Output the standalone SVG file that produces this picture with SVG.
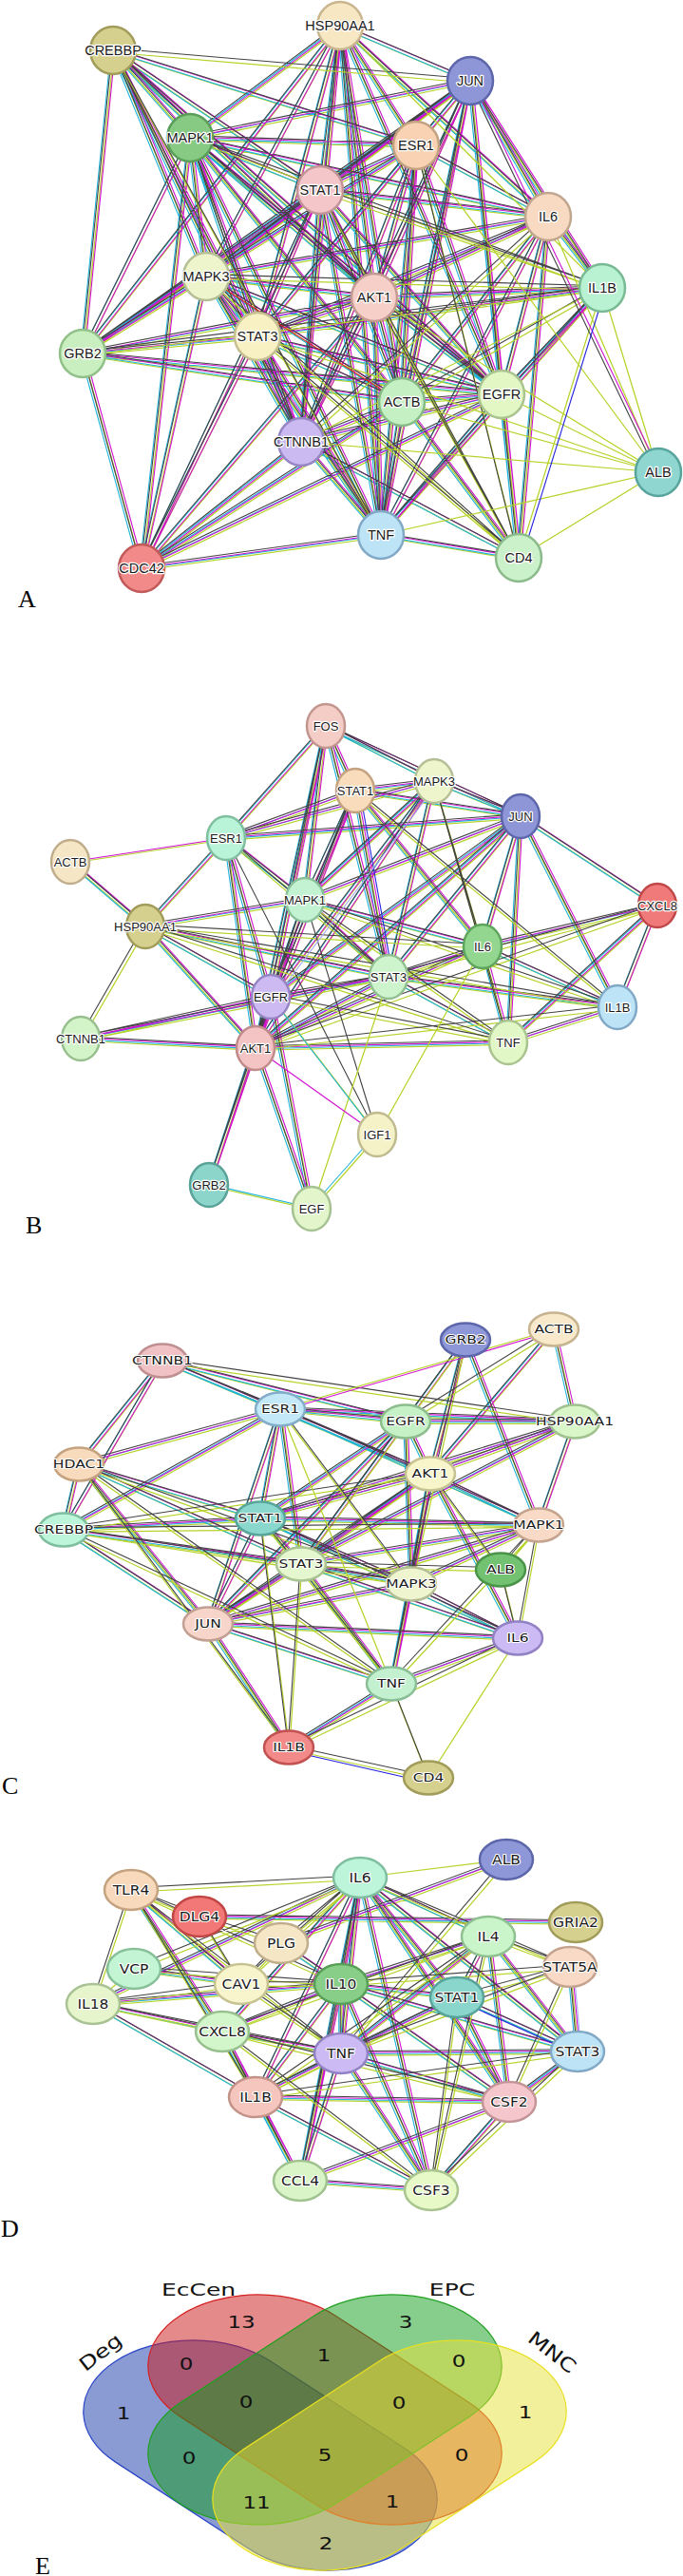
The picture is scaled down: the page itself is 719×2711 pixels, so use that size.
<svg xmlns="http://www.w3.org/2000/svg" xmlns:xlink="http://www.w3.org/1999/xlink" width="719" height="2711" viewBox="0 0 719 2711">
<style>
.e{fill:none;stroke-width:1.1}
.y{stroke:#b6d32a;stroke-width:1.25}
.c{stroke:#1db3dc}
.m{stroke:#d010d0}
.k{stroke:#424242}
.bl{stroke:#2222e0}
.lp{stroke:#a8a8f8}
.rd{stroke:#e02222}
.n{stroke-width:2.5}
.ta{font-family:"Liberation Sans",Arial,sans-serif;font-size:14.5px;text-anchor:middle;fill:#1a1a1a;stroke:#fff;stroke-width:2.6px;stroke-linejoin:round;paint-order:stroke}
.tb{font-family:"Liberation Sans",Arial,sans-serif;font-size:13px;text-anchor:middle;fill:#1a1a1a;stroke:#fff;stroke-width:2.4px;stroke-linejoin:round;paint-order:stroke}
.tc{font-family:"DejaVu Sans",sans-serif;font-size:15.5px;text-anchor:middle;fill:#1a1a1a;stroke:#fff;stroke-width:2.4px;stroke-linejoin:round;paint-order:stroke}
.lab{font-family:"Liberation Serif","Times New Roman",serif;font-size:26px;fill:#000}
.vn{font-family:"DejaVu Sans",sans-serif;font-size:23px;text-anchor:middle;fill:#111}
.vl{font-family:"DejaVu Sans",sans-serif;font-size:25px;text-anchor:middle;fill:#111}
.ve{fill-opacity:.5;stroke-width:1.2}
</style>
<defs>
<path id="aF" d="M119 53L438 153M119 53L337 200M119 53L200 145M119 53L217 291M119 53L87 372M119 53L271 354M119 53L394 313M119 53L317 465M119 53L528 415M358 27L200 145M358 27L438 153M358 27L337 200M358 27L394 313M358 27L271 354M358 27L217 291M358 27L528 415M358 27L423 423M358 27L317 465M358 27L577 228M358 27L401 563M358 27L87 372M358 27L495 85M495 85L438 153M495 85L337 200M495 85L200 145M495 85L217 291M495 85L271 354M495 85L394 313M495 85L577 228M495 85L634 303M495 85L528 415M495 85L423 423M495 85L317 465M495 85L401 563M495 85L546 587M495 85L87 372M200 145L438 153M200 145L337 200M200 145L217 291M200 145L394 313M200 145L271 354M200 145L528 415M200 145L423 423M200 145L317 465M200 145L87 372M200 145L577 228M200 145L401 563M200 145L149 598M438 153L337 200M438 153L394 313M438 153L271 354M438 153L217 291M438 153L577 228M438 153L528 415M438 153L423 423M438 153L317 465M438 153L87 372M438 153L401 563M337 200L394 313M337 200L271 354M337 200L217 291M337 200L577 228M337 200L528 415M337 200L423 423M337 200L317 465M337 200L87 372M337 200L401 563M337 200L149 598M577 228L394 313M577 228L271 354M577 228L217 291M577 228L634 303M577 228L528 415M577 228L423 423M577 228L401 563M577 228L546 587M217 291L394 313M217 291L271 354M217 291L87 372M217 291L528 415M217 291L423 423M217 291L317 465M217 291L401 563M217 291L149 598M394 313L271 354M394 313L528 415M394 313L423 423M394 313L317 465M394 313L401 563M394 313L87 372M394 313L149 598M394 313L634 303M634 303L401 563M634 303L271 354M634 303L528 415M271 354L87 372M271 354L528 415M271 354L423 423M271 354L317 465M271 354L401 563M271 354L149 598M87 372L528 415M87 372L423 423M87 372L149 598M423 423L528 415M423 423L317 465M423 423L401 563M423 423L149 598M423 423L546 587M528 415L317 465M528 415L401 563M528 415L546 587M528 415L149 598M317 465L401 563M317 465L149 598M317 465L546 587M401 563L546 587M401 563L149 598"/>
<path id="aP" d="M119 53L495 85M634 303L423 423M634 303L217 291M438 153L546 587M337 200L634 303M337 200L546 587M394 313L546 587M271 354L546 587M200 145L634 303M87 372L634 303M317 465L577 228M119 53L401 563M217 291L546 587"/>
<path id="aY" d="M693 497L577 228M693 497L634 303M693 497L528 415M693 497L423 423M693 497L317 465M693 497L401 563M693 497L546 587M693 497L394 313M693 497L271 354M693 497L438 153M358 27L634 303M634 303L317 465M546 587L634 303"/>
<path id="aKM" d="M495 85L693 497"/>
<path id="bF" d="M343 764L457 822M343 764L548 859M343 764L238 882M343 764L321 947M343 764L409 1028M343 764L285 1049M343 764L269 1103M343 764L374 832M457 822L374 832M457 822L548 859M457 822L238 882M457 822L321 947M457 822L285 1049M457 822L269 1103M457 822L409 1028M374 832L548 859M374 832L238 882M374 832L321 947M374 832L409 1028M374 832L285 1049M374 832L269 1103M374 832L508 996M548 859L238 882M548 859L321 947M548 859L692 953M548 859L508 996M548 859L409 1028M548 859L285 1049M548 859L269 1103M548 859L535 1097M548 859L650 1060M238 882L153 975M238 882L321 947M238 882L285 1049M238 882L269 1103M74 907L153 975M153 975L321 947M153 975L409 1028M153 975L285 1049M153 975L269 1103M321 947L508 996M321 947L409 1028M321 947L285 1049M321 947L269 1103M692 953L508 996M692 953L535 1097M692 953L650 1060M508 996L409 1028M508 996L269 1103M508 996L535 1097M508 996L650 1060M409 1028L285 1049M409 1028L269 1103M409 1028L535 1097M409 1028L650 1060M409 1028L85 1093M285 1049L269 1103M285 1049L85 1093M285 1049L220 1247M285 1049L328 1272M650 1060L535 1097M85 1093L269 1103M269 1103L535 1097M269 1103L220 1247M269 1103L328 1272"/>
<path id="bP" d="M457 822L508 996M457 822L535 1097M374 832L650 1060M238 882L409 1028M153 975L85 1093M153 975L535 1097M153 975L650 1060M153 975L508 996M321 947L535 1097M321 947L650 1060M692 953L409 1028M692 953L269 1103M285 1049L535 1097M650 1060L269 1103"/>
<path id="bK" d="M238 882L397 1194M321 947L397 1194"/>
<path id="bY" d="M508 996L397 1194M409 1028L328 1272M74 907L238 882"/>
<path id="bC" d="M220 1247L328 1272M397 1194L328 1272M285 1049L397 1194"/>
<path id="bM" d="M269 1103L397 1194M74 907L238 882"/>
<path id="cF" d="M490 1410L427 1496M490 1410L453 1551M490 1410L567 1605M583 1399L453 1551M583 1399L605 1496M171 1432L295 1483M171 1432L427 1496M171 1432L453 1551M171 1432L83 1541M171 1432L67 1610M295 1483L427 1496M295 1483L605 1496M295 1483L453 1551M295 1483L83 1541M295 1483L67 1610M295 1483L274 1598M295 1483L317 1646M295 1483L219 1709M295 1483L567 1605M427 1496L605 1496M427 1496L453 1551M427 1496L274 1598M427 1496L317 1646M427 1496L433 1667M427 1496L219 1709M605 1496L453 1551M605 1496L567 1605M605 1496L317 1646M605 1496L274 1598M83 1541L67 1610M83 1541L274 1598M83 1541L317 1646M83 1541L219 1709M453 1551L274 1598M453 1551L317 1646M453 1551L567 1605M453 1551L433 1667M453 1551L219 1709M453 1551L545 1724M453 1551L412 1772M274 1598L567 1605M274 1598L67 1610M274 1598L317 1646M274 1598L433 1667M274 1598L219 1709M274 1598L545 1724M567 1605L317 1646M567 1605L433 1667M567 1605L219 1709M67 1610L317 1646M67 1610L219 1709M317 1646L433 1667M317 1646L219 1709M317 1646L545 1724M317 1646L412 1772M433 1667L219 1709M433 1667L545 1724M433 1667L412 1772M219 1709L545 1724M219 1709L412 1772M219 1709L304 1839M545 1724L412 1772M412 1772L304 1839"/>
<path id="cP" d="M490 1410L317 1646M490 1410L433 1667M583 1399L427 1496M171 1432L605 1496M83 1541L433 1667M83 1541L412 1772M83 1541L304 1839M453 1551L527 1652M453 1551L67 1610M274 1598L412 1772M274 1598L304 1839M567 1605L67 1610M567 1605L545 1724M567 1605L527 1652M567 1605L412 1772M67 1610L433 1667M67 1610L412 1772M317 1646L304 1839M317 1646L527 1652M527 1652L545 1724M545 1724L304 1839M412 1772L451 1871M304 1839L451 1871M295 1483L433 1667"/>
<path id="cY" d="M295 1483L412 1772M545 1724L451 1871M583 1399L295 1483"/>
<path id="cM" d="M583 1399L295 1483"/>
<path id="dF" d="M379 1976L359 2088M379 1976L359 2161M379 1976L234 2138M379 1976L269 2207M379 1976L514 2038M379 1976L481 2102M379 1976L608 2159M379 1976L536 2212M379 1976L454 2305M379 1976L316 2295M379 1976L98 2109M533 1957L296 2045M138 1989L254 2088M138 1989L234 2138M210 2017L606 2023M296 2045L359 2088M141 2072L254 2088M359 2088L514 2038M359 2088L481 2102M359 2088L608 2159M359 2088L359 2161M359 2088L234 2138M359 2088L269 2207M359 2088L536 2212M359 2088L454 2305M359 2088L316 2295M359 2088L98 2109M514 2038L481 2102M514 2038L608 2159M514 2038L359 2161M514 2038L536 2212M600 2070L608 2159M481 2102L608 2159M481 2102L359 2161M481 2102L536 2212M98 2109L234 2138M98 2109L269 2207M234 2138L359 2161M234 2138L269 2207M234 2138L316 2295M359 2161L608 2159M359 2161L269 2207M359 2161L536 2212M359 2161L316 2295M359 2161L454 2305M608 2159L536 2212M269 2207L536 2212M269 2207L316 2295M269 2207L454 2305M536 2212L316 2295M536 2212L454 2305M316 2295L454 2305"/>
<path id="dP" d="M379 1976L138 1989M379 1976L296 2045M379 1976L600 2070M379 1976L141 2072M379 1976L254 2088M533 1957L359 2161M138 1989L210 2017M138 1989L98 2109M138 1989L269 2207M138 1989L359 2161M138 1989L359 2088M210 2017L296 2045M210 2017L254 2088M296 2045L254 2088M141 2072L359 2088M254 2088L359 2088M254 2088L359 2161M359 2088L600 2070M514 2038L600 2070M514 2038L269 2207M514 2038L234 2138M514 2038L454 2305M600 2070L481 2102M600 2070L536 2212M600 2070L359 2161M481 2102L269 2207M481 2102L454 2305M98 2109L359 2161M234 2138L454 2305M234 2138L536 2212M608 2159L269 2207M608 2159L454 2305M254 2088L98 2109"/>
<path id="dY" d="M379 1976L533 1957M141 2072L98 2109"/>
</defs>

<g id="connectors-a">
<use xlink:href="#aF" class="e y" transform="translate(.75 2.25)"/>
<use xlink:href="#aF" class="e c" transform="translate(-2.25 .75)"/>
<use xlink:href="#aF" class="e m" transform="translate(2.25 -.75)"/>
<use xlink:href="#aF" class="e k" transform="translate(-.75 -2.25)"/>
<use xlink:href="#aP" class="e y" transform="translate(.75 2.25)"/>
<use xlink:href="#aP" class="e k" transform="translate(-.75 -2.25)"/>
<use xlink:href="#aY" class="e y"/>
<use xlink:href="#aKM" class="e m" transform="translate(1.5 -.7)"/>
<use xlink:href="#aKM" class="e k" transform="translate(-1.5 .7)"/>
<path class="e bl" d="M637 305L549 589"/>
<path class="e rd" d="M219 293L425 425"/>
</g>

<g id="connectors-b">
<use xlink:href="#bF" class="e y" transform="translate(.75 2.25)"/>
<use xlink:href="#bF" class="e c" transform="translate(-2.25 .75)"/>
<use xlink:href="#bF" class="e m" transform="translate(2.25 -.75)"/>
<use xlink:href="#bF" class="e k" transform="translate(-.75 -2.25)"/>
<use xlink:href="#bP" class="e y" transform="translate(.75 2.25)"/>
<use xlink:href="#bP" class="e k" transform="translate(-.75 -2.25)"/>
<use xlink:href="#bK" class="e k"/>
<use xlink:href="#bY" class="e y" transform="translate(0 1.5)"/>
<use xlink:href="#bC" class="e y" transform="translate(1 1)"/>
<use xlink:href="#bC" class="e c" transform="translate(-1 -1)"/>
<use xlink:href="#bM" class="e m"/>
<path class="e bl" d="M379 834L414 1030"/>
<path class="e lp" d="M461 824L289 1051"/>
</g>

<g id="connectors-c">
<use xlink:href="#cF" class="e y" transform="translate(.75 2.25)"/>
<use xlink:href="#cF" class="e c" transform="translate(-2.25 .75)"/>
<use xlink:href="#cF" class="e m" transform="translate(2.25 -.75)"/>
<use xlink:href="#cF" class="e k" transform="translate(-.75 -2.25)"/>
<use xlink:href="#cP" class="e y" transform="translate(.75 2.25)"/>
<use xlink:href="#cP" class="e k" transform="translate(-.75 -2.25)"/>
<use xlink:href="#cY" class="e y"/>
<use xlink:href="#cM" class="e m" transform="translate(0 2)"/>
<path class="e bl" d="M306 1843L451 1876"/>
</g>

<g id="connectors-d">
<use xlink:href="#dF" class="e y" transform="translate(.75 2.25)"/>
<use xlink:href="#dF" class="e c" transform="translate(-2.25 .75)"/>
<use xlink:href="#dF" class="e m" transform="translate(2.25 -.75)"/>
<use xlink:href="#dF" class="e k" transform="translate(-.75 -2.25)"/>
<use xlink:href="#dP" class="e y" transform="translate(.75 2.25)"/>
<use xlink:href="#dP" class="e k" transform="translate(-.75 -2.25)"/>
<use xlink:href="#dY" class="e y"/>
<path class="e bl" d="M484 2106L610 2163"/>
<path class="e lp" d="M604 2072L612 2161"/>
</g>

<!-- Panel A nodes -->
<g id="a-hsp90aa1"><ellipse class="n" cx="358" cy="27" rx="24" ry="25" fill="#f7e7c3" stroke="#c9b58e"/><text class="ta" x="358" y="32">HSP90AA1</text></g>
<g id="a-crebbp"><ellipse class="n" cx="119" cy="53" rx="24" ry="25" fill="#d6d08e" stroke="#a29c5a"/><text class="ta" x="119" y="58">CREBBP</text></g>
<g id="a-jun"><ellipse class="n" cx="495" cy="85" rx="24" ry="25" fill="#8e96d8" stroke="#5d66aa"/><text class="ta" x="495" y="90">JUN</text></g>
<g id="a-mapk1"><ellipse class="n" cx="200" cy="145" rx="24" ry="25" fill="#86ca84" stroke="#5a9e5a"/><text class="ta" x="200" y="150">MAPK1</text></g>
<g id="a-esr1"><ellipse class="n" cx="438" cy="153" rx="24" ry="25" fill="#f8d2b2" stroke="#c2a281"/><text class="ta" x="438" y="158">ESR1</text></g>
<g id="a-stat1"><ellipse class="n" cx="337" cy="200" rx="24" ry="25" fill="#f5c6c9" stroke="#c39598"/><text class="ta" x="337" y="205">STAT1</text></g>
<g id="a-il6"><ellipse class="n" cx="577" cy="228" rx="24" ry="25" fill="#f8d9c2" stroke="#c1a68f"/><text class="ta" x="577" y="233">IL6</text></g>
<g id="a-mapk3"><ellipse class="n" cx="217" cy="291" rx="24" ry="25" fill="#eef5cd" stroke="#b5bf95"/><text class="ta" x="217" y="296">MAPK3</text></g>
<g id="a-akt1"><ellipse class="n" cx="394" cy="313" rx="24" ry="25" fill="#f5cfc8" stroke="#c49a93"/><text class="ta" x="394" y="318">AKT1</text></g>
<g id="a-il1b"><ellipse class="n" cx="634" cy="303" rx="24" ry="25" fill="#b9f2d2" stroke="#79b993"/><text class="ta" x="634" y="308">IL1B</text></g>
<g id="a-stat3"><ellipse class="n" cx="271" cy="354" rx="24" ry="25" fill="#f7f1c4" stroke="#c6bf91"/><text class="ta" x="271" y="359">STAT3</text></g>
<g id="a-grb2"><ellipse class="n" cx="87" cy="372" rx="24" ry="25" fill="#c9efc0" stroke="#92c089"/><text class="ta" x="87" y="377">GRB2</text></g>
<g id="a-actb"><ellipse class="n" cx="423" cy="423" rx="24" ry="25" fill="#c4f0c4" stroke="#86bb86"/><text class="ta" x="423" y="428">ACTB</text></g>
<g id="a-egfr"><ellipse class="n" cx="528" cy="415" rx="24" ry="25" fill="#e2f7c4" stroke="#a9c48f"/><text class="ta" x="528" y="420">EGFR</text></g>
<g id="a-ctnnb1"><ellipse class="n" cx="317" cy="465" rx="24" ry="25" fill="#cbbaf2" stroke="#9685c4"/><text class="ta" x="317" y="470">CTNNB1</text></g>
<g id="a-alb"><ellipse class="n" cx="693" cy="497" rx="24" ry="25" fill="#8ed6cf" stroke="#58a59d"/><text class="ta" x="693" y="502">ALB</text></g>
<g id="a-tnf"><ellipse class="n" cx="401" cy="563" rx="24" ry="25" fill="#bde3f7" stroke="#81a9c6"/><text class="ta" x="401" y="568">TNF</text></g>
<g id="a-cd4"><ellipse class="n" cx="546" cy="587" rx="24" ry="25" fill="#caf1c9" stroke="#8cbb8b"/><text class="ta" x="546" y="592">CD4</text></g>
<g id="a-cdc42"><ellipse class="n" cx="149" cy="598" rx="24" ry="25" fill="#f28a8a" stroke="#c25a5a"/><text class="ta" x="149" y="603">CDC42</text></g>
<text class="lab" x="19" y="639">A</text>

<!-- Panel B nodes -->
<g id="b-fos"><ellipse class="n" cx="343" cy="764" rx="20" ry="23" fill="#f4cdc6" stroke="#c2968e"/><text class="tb" x="343" y="769">FOS</text></g>
<g id="b-mapk3"><ellipse class="n" cx="457" cy="822" rx="20" ry="23" fill="#eef5cd" stroke="#b5bf95"/><text class="tb" x="457" y="827">MAPK3</text></g>
<g id="b-stat1"><ellipse class="n" cx="374" cy="832" rx="20" ry="23" fill="#f8dcbc" stroke="#c4a27f"/><text class="tb" x="374" y="837">STAT1</text></g>
<g id="b-jun"><ellipse class="n" cx="548" cy="859" rx="20" ry="23" fill="#8e96d8" stroke="#5d66aa"/><text class="tb" x="548" y="864">JUN</text></g>
<g id="b-esr1"><ellipse class="n" cx="238" cy="882" rx="20" ry="23" fill="#b9f4d9" stroke="#7fbf9f"/><text class="tb" x="238" y="887">ESR1</text></g>
<g id="b-actb"><ellipse class="n" cx="74" cy="907" rx="20" ry="23" fill="#f5e6c5" stroke="#c0ad8c"/><text class="tb" x="74" y="912">ACTB</text></g>
<g id="b-cxcl8"><ellipse class="n" cx="692" cy="953" rx="20" ry="23" fill="#f07a7a" stroke="#c04848"/><text class="tb" x="692" y="958">CXCL8</text></g>
<g id="b-mapk1"><ellipse class="n" cx="321" cy="947" rx="20" ry="23" fill="#c3f2d2" stroke="#88c099"/><text class="tb" x="321" y="952">MAPK1</text></g>
<g id="b-hsp90aa1"><ellipse class="n" cx="153" cy="975" rx="20" ry="23" fill="#d6d08e" stroke="#a29c5a"/><text class="tb" x="153" y="980">HSP90AA1</text></g>
<g id="b-il6"><ellipse class="n" cx="508" cy="996" rx="20" ry="23" fill="#92d690" stroke="#5fa65d"/><text class="tb" x="508" y="1001">IL6</text></g>
<g id="b-stat3"><ellipse class="n" cx="409" cy="1028" rx="20" ry="23" fill="#cdf4cc" stroke="#91bf90"/><text class="tb" x="409" y="1033">STAT3</text></g>
<g id="b-egfr"><ellipse class="n" cx="285" cy="1049" rx="20" ry="23" fill="#cdbaf3" stroke="#9685c4"/><text class="tb" x="285" y="1054">EGFR</text></g>
<g id="b-il1b"><ellipse class="n" cx="650" cy="1060" rx="20" ry="23" fill="#bde3f7" stroke="#81a9c6"/><text class="tb" x="650" y="1065">IL1B</text></g>
<g id="b-ctnnb1"><ellipse class="n" cx="85" cy="1093" rx="20" ry="23" fill="#d3f3c9" stroke="#98bf8e"/><text class="tb" x="85" y="1098">CTNNB1</text></g>
<g id="b-akt1"><ellipse class="n" cx="269" cy="1103" rx="20" ry="23" fill="#f4c3c3" stroke="#c28b8b"/><text class="tb" x="269" y="1108">AKT1</text></g>
<g id="b-tnf"><ellipse class="n" cx="535" cy="1097" rx="20" ry="23" fill="#e2f7c6" stroke="#a9c48f"/><text class="tb" x="535" y="1102">TNF</text></g>
<g id="b-igf1"><ellipse class="n" cx="397" cy="1194" rx="20" ry="23" fill="#f5f2c8" stroke="#c0bb8f"/><text class="tb" x="397" y="1199">IGF1</text></g>
<g id="b-grb2"><ellipse class="n" cx="220" cy="1247" rx="20" ry="23" fill="#8cd5cb" stroke="#58a298"/><text class="tb" x="220" y="1252">GRB2</text></g>
<g id="b-egf"><ellipse class="n" cx="328" cy="1272" rx="20" ry="23" fill="#e2f5cb" stroke="#a7c293"/><text class="tb" x="328" y="1277">EGF</text></g>
<text class="lab" x="27" y="1298">B</text>

<!-- Panel C nodes -->
<g id="c-grb2"><ellipse class="n" cx="490" cy="1410" rx="26" ry="17.5" fill="#8e98d8" stroke="#5d66aa"/><text class="tc" transform="matrix(1 0 0 .75 490 1414.2)">GRB2</text></g>
<g id="c-actb"><ellipse class="n" cx="583" cy="1399" rx="26" ry="17.5" fill="#f8e9cb" stroke="#c6b38f"/><text class="tc" transform="matrix(1 0 0 .75 583 1403.2)">ACTB</text></g>
<g id="c-ctnnb1"><ellipse class="n" cx="171" cy="1432" rx="26" ry="17.5" fill="#f1c2c5" stroke="#c08f92"/><text class="tc" transform="matrix(1 0 0 .75 171 1436.2)">CTNNB1</text></g>
<g id="c-esr1"><ellipse class="n" cx="295" cy="1483" rx="26" ry="17.5" fill="#c3e9f8" stroke="#83adc8"/><text class="tc" transform="matrix(1 0 0 .75 295 1487.2)">ESR1</text></g>
<g id="c-egfr"><ellipse class="n" cx="427" cy="1496" rx="26" ry="17.5" fill="#c6f1c6" stroke="#8dbd8d"/><text class="tc" transform="matrix(1 0 0 .75 427 1500.2)">EGFR</text></g>
<g id="c-hsp90aa1"><ellipse class="n" cx="605" cy="1496" rx="26" ry="17.5" fill="#d9f6c9" stroke="#9fc28f"/><text class="tc" transform="matrix(1 0 0 .75 605 1500.2)">HSP90AA1</text></g>
<g id="c-hdac1"><ellipse class="n" cx="83" cy="1541" rx="26" ry="17.5" fill="#f8dabc" stroke="#c4a27f"/><text class="tc" transform="matrix(1 0 0 .75 83 1545.2)">HDAC1</text></g>
<g id="c-akt1"><ellipse class="n" cx="453" cy="1551" rx="26" ry="17.5" fill="#f8f5ca" stroke="#c7c291"/><text class="tc" transform="matrix(1 0 0 .75 453 1555.2)">AKT1</text></g>
<g id="c-stat1"><ellipse class="n" cx="274" cy="1598" rx="26" ry="17.5" fill="#8ad8cd" stroke="#58a69b"/><text class="tc" transform="matrix(1 0 0 .75 274 1602.2)">STAT1</text></g>
<g id="c-mapk1"><ellipse class="n" cx="567" cy="1605" rx="26" ry="17.5" fill="#f8dac6" stroke="#c4a48f"/><text class="tc" transform="matrix(1 0 0 .75 567 1609.2)">MAPK1</text></g>
<g id="c-crebbp"><ellipse class="n" cx="67" cy="1610" rx="26" ry="17.5" fill="#bdf5da" stroke="#7fbf9f"/><text class="tc" transform="matrix(1 0 0 .75 67 1614.2)">CREBBP</text></g>
<g id="c-stat3"><ellipse class="n" cx="317" cy="1646" rx="26" ry="17.5" fill="#e5f7ce" stroke="#aac494"/><text class="tc" transform="matrix(1 0 0 .75 317 1650.2)">STAT3</text></g>
<g id="c-alb"><ellipse class="n" cx="527" cy="1652" rx="26" ry="17.5" fill="#72c272" stroke="#4a944a"/><text class="tc" transform="matrix(1 0 0 .75 527 1656.2)">ALB</text></g>
<g id="c-mapk3"><ellipse class="n" cx="433" cy="1667" rx="26" ry="17.5" fill="#eff5cf" stroke="#b5bf95"/><text class="tc" transform="matrix(1 0 0 .75 433 1671.2)">MAPK3</text></g>
<g id="c-jun"><ellipse class="n" cx="219" cy="1709" rx="26" ry="17.5" fill="#f8d5ca" stroke="#c29f93"/><text class="tc" transform="matrix(1 0 0 .75 219 1713.2)">JUN</text></g>
<g id="c-il6"><ellipse class="n" cx="545" cy="1724" rx="26" ry="17.5" fill="#cbbaf3" stroke="#9282c4"/><text class="tc" transform="matrix(1 0 0 .75 545 1728.2)">IL6</text></g>
<g id="c-tnf"><ellipse class="n" cx="412" cy="1772" rx="26" ry="17.5" fill="#c3f1cf" stroke="#89be96"/><text class="tc" transform="matrix(1 0 0 .75 412 1776.2)">TNF</text></g>
<g id="c-il1b"><ellipse class="n" cx="304" cy="1839" rx="26" ry="17.5" fill="#f28a8a" stroke="#c25252"/><text class="tc" transform="matrix(1 0 0 .75 304 1843.2)">IL1B</text></g>
<g id="c-cd4"><ellipse class="n" cx="451" cy="1871" rx="26" ry="17.5" fill="#d6d08e" stroke="#a29c5a"/><text class="tc" transform="matrix(1 0 0 .75 451 1875.2)">CD4</text></g>
<text class="lab" x="2" y="1888">C</text>

<!-- Panel D nodes -->
<g id="d-alb"><ellipse class="n" cx="533" cy="1957" rx="28" ry="21" fill="#8e98d8" stroke="#5d66aa"/><text class="tc" transform="matrix(1 0 0 .87 533 1961.9)">ALB</text></g>
<g id="d-il6"><ellipse class="n" cx="379" cy="1976" rx="28" ry="21" fill="#bdf5da" stroke="#7fbf9f"/><text class="tc" transform="matrix(1 0 0 .87 379 1980.9)">IL6</text></g>
<g id="d-tlr4"><ellipse class="n" cx="138" cy="1989" rx="28" ry="21" fill="#f8d9bc" stroke="#c4a27f"/><text class="tc" transform="matrix(1 0 0 .87 138 1993.9)">TLR4</text></g>
<g id="d-dlg4"><ellipse class="n" cx="210" cy="2017" rx="28" ry="21" fill="#f27878" stroke="#c24646"/><text class="tc" transform="matrix(1 0 0 .87 210 2021.9)">DLG4</text></g>
<g id="d-gria2"><ellipse class="n" cx="606" cy="2023" rx="28" ry="21" fill="#d6d08e" stroke="#a29c5a"/><text class="tc" transform="matrix(1 0 0 .87 606 2027.9)">GRIA2</text></g>
<g id="d-plg"><ellipse class="n" cx="296" cy="2045" rx="28" ry="21" fill="#f5e6c6" stroke="#c0ad8c"/><text class="tc" transform="matrix(1 0 0 .87 296 2049.9)">PLG</text></g>
<g id="d-il4"><ellipse class="n" cx="514" cy="2038" rx="28" ry="21" fill="#caf5ca" stroke="#8fc08f"/><text class="tc" transform="matrix(1 0 0 .87 514 2042.9)">IL4</text></g>
<g id="d-stat5a"><ellipse class="n" cx="600" cy="2070" rx="28" ry="21" fill="#f8dac6" stroke="#c4a48f"/><text class="tc" transform="matrix(1 0 0 .87 600 2074.9)">STAT5A</text></g>
<g id="d-vcp"><ellipse class="n" cx="141" cy="2072" rx="28" ry="21" fill="#c3f4d3" stroke="#88c099"/><text class="tc" transform="matrix(1 0 0 .87 141 2076.9)">VCP</text></g>
<g id="d-cav1"><ellipse class="n" cx="254" cy="2088" rx="28" ry="21" fill="#f8f4cc" stroke="#c7c291"/><text class="tc" transform="matrix(1 0 0 .87 254 2092.9)">CAV1</text></g>
<g id="d-il10"><ellipse class="n" cx="359" cy="2088" rx="28" ry="21" fill="#88cd88" stroke="#58a058"/><text class="tc" transform="matrix(1 0 0 .87 359 2092.9)">IL10</text></g>
<g id="d-stat1"><ellipse class="n" cx="481" cy="2102" rx="28" ry="21" fill="#8ad6cd" stroke="#58a49b"/><text class="tc" transform="matrix(1 0 0 .87 481 2106.9)">STAT1</text></g>
<g id="d-il18"><ellipse class="n" cx="98" cy="2109" rx="28" ry="21" fill="#e6f5cb" stroke="#a9c293"/><text class="tc" transform="matrix(1 0 0 .87 98 2113.9)">IL18</text></g>
<g id="d-cxcl8"><ellipse class="n" cx="234" cy="2138" rx="28" ry="21" fill="#d3f5ca" stroke="#98c08e"/><text class="tc" transform="matrix(1 0 0 .87 234 2142.9)">CXCL8</text></g>
<g id="d-tnf"><ellipse class="n" cx="359" cy="2161" rx="28" ry="21" fill="#cbbaf3" stroke="#9282c4"/><text class="tc" transform="matrix(1 0 0 .87 359 2165.9)">TNF</text></g>
<g id="d-stat3"><ellipse class="n" cx="608" cy="2159" rx="28" ry="21" fill="#bde3f7" stroke="#81a9c6"/><text class="tc" transform="matrix(1 0 0 .87 608 2163.9)">STAT3</text></g>
<g id="d-il1b"><ellipse class="n" cx="269" cy="2207" rx="28" ry="21" fill="#f5c6bd" stroke="#c3938a"/><text class="tc" transform="matrix(1 0 0 .87 269 2211.9)">IL1B</text></g>
<g id="d-csf2"><ellipse class="n" cx="536" cy="2212" rx="28" ry="21" fill="#f5c6cb" stroke="#c39598"/><text class="tc" transform="matrix(1 0 0 .87 536 2216.9)">CSF2</text></g>
<g id="d-ccl4"><ellipse class="n" cx="316" cy="2295" rx="28" ry="21" fill="#d9f5c7" stroke="#9fc28f"/><text class="tc" transform="matrix(1 0 0 .87 316 2299.9)">CCL4</text></g>
<g id="d-csf3"><ellipse class="n" cx="454" cy="2305" rx="28" ry="21" fill="#e6f9c7" stroke="#a9c48f"/><text class="tc" transform="matrix(1 0 0 .87 454 2309.9)">CSF3</text></g>
<text class="lab" x="1" y="2354">D</text>

<!-- Panel E Venn -->
<g id="venn">
<rect class="ve" transform="translate(274 2584) scale(1 .65) rotate(45)" x="-215.5" y="-115.5" width="431" height="231" rx="115.5" fill="#1537a9" stroke="#2a44c8" vector-effect="non-scaling-stroke"/>
<rect class="ve" transform="translate(342 2536) scale(1 .65) rotate(45)" x="-215.5" y="-115.5" width="431" height="231" rx="115.5" fill="#cb1515" stroke="#d42020" vector-effect="non-scaling-stroke"/>
<rect class="ve" transform="translate(342 2536) scale(1 .65) rotate(-45)" x="-215.5" y="-115.5" width="431" height="231" rx="115.5" fill="#0f9b19" stroke="#20a020" vector-effect="non-scaling-stroke"/>
<rect class="ve" transform="translate(410 2584) scale(1 .65) rotate(-45)" x="-215.5" y="-115.5" width="431" height="231" rx="115.5" fill="#e7e137" stroke="#e8e020" vector-effect="non-scaling-stroke"/>
<text class="vl" transform="matrix(1 0 0 .72 209 2416)">EcCen</text>
<text class="vl" transform="matrix(1 0 0 .72 476 2416)">EPC</text>
<text class="vl" transform="translate(110 2481) rotate(-38) scale(1 .8)">Deg</text>
<text class="vl" transform="translate(577 2481) rotate(38) scale(1 .8)">MNC</text>
<text class="vn" transform="matrix(1 0 0 .78 254 2449.5)">13</text>
<text class="vn" transform="matrix(1 0 0 .78 427 2449.5)">3</text>
<text class="vn" transform="matrix(1 0 0 .78 196 2493.5)">0</text>
<text class="vn" transform="matrix(1 0 0 .78 341 2484.5)">1</text>
<text class="vn" transform="matrix(1 0 0 .78 483 2490.5)">0</text>
<text class="vn" transform="matrix(1 0 0 .78 130 2545.5)">1</text>
<text class="vn" transform="matrix(1 0 0 .78 259 2533.5)">0</text>
<text class="vn" transform="matrix(1 0 0 .78 420 2534.5)">0</text>
<text class="vn" transform="matrix(1 0 0 .78 553 2544.5)">1</text>
<text class="vn" transform="matrix(1 0 0 .78 199 2592.5)">0</text>
<text class="vn" transform="matrix(1 0 0 .78 342 2589.5)">5</text>
<text class="vn" transform="matrix(1 0 0 .78 486 2589.5)">0</text>
<text class="vn" transform="matrix(1 0 0 .78 270 2639.5)">11</text>
<text class="vn" transform="matrix(1 0 0 .78 413 2638.5)">1</text>
<text class="vn" transform="matrix(1 0 0 .78 343 2682.5)">2</text>
</g>
<text class="lab" x="37" y="2709">E</text>
</svg>
